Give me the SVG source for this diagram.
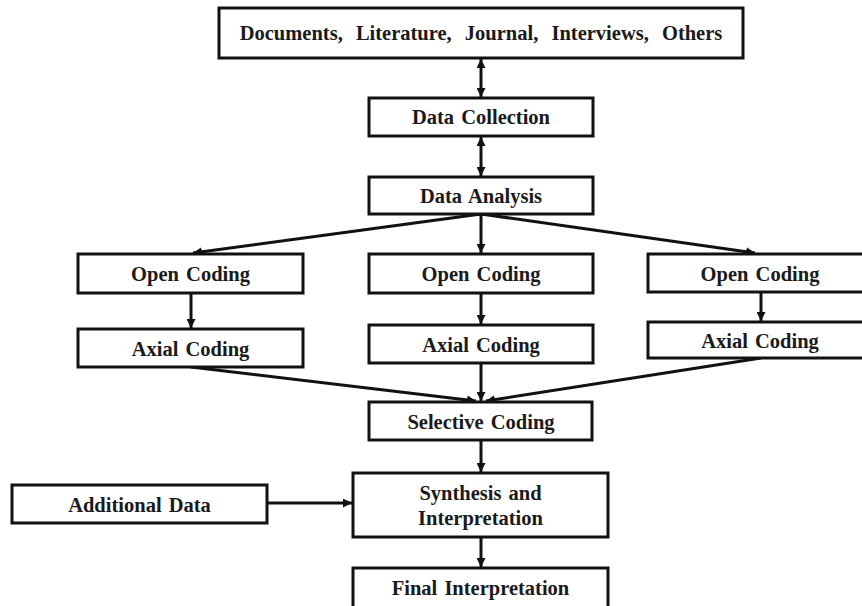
<svg xmlns="http://www.w3.org/2000/svg" width="862" height="606" viewBox="0 0 862 606">
<style>
  .box { fill: #ffffff; stroke: #111111; stroke-width: 3; }
  .lbl { font-family: "Liberation Serif", "Times New Roman", serif; font-weight: bold; font-size: 20.5px; fill: #1a1a1a; text-anchor: middle; word-spacing: 2px; }
  .conn { stroke: #111111; stroke-width: 3; fill: none; }
</style>
<defs>
  <marker id="ah" viewBox="0 0 10 10" refX="10" refY="5" markerWidth="9" markerHeight="9" markerUnits="userSpaceOnUse" orient="auto-start-reverse">
    <path d="M0,0 L10,5 L0,10 z" fill="#111111"/>
  </marker>
</defs>
<rect width="862" height="606" fill="#ffffff"/>

<g id="connectors">
  <line class="conn" x1="481" y1="59" x2="481" y2="97" marker-start="url(#ah)" marker-end="url(#ah)"/>
  <line class="conn" x1="481" y1="137" x2="481" y2="176" marker-start="url(#ah)" marker-end="url(#ah)"/>
  <line class="conn" x1="481" y1="214" x2="193" y2="253" marker-end="url(#ah)"/>
  <line class="conn" x1="481" y1="214" x2="481" y2="253" marker-end="url(#ah)"/>
  <line class="conn" x1="481" y1="214" x2="755" y2="253" marker-end="url(#ah)"/>
  <line class="conn" x1="191" y1="293" x2="191" y2="328" marker-end="url(#ah)"/>
  <line class="conn" x1="481" y1="293" x2="481" y2="324" marker-end="url(#ah)"/>
  <line class="conn" x1="761" y1="292" x2="761" y2="321" marker-end="url(#ah)"/>
  <line class="conn" x1="191" y1="367" x2="476" y2="401" marker-end="url(#ah)"/>
  <line class="conn" x1="481" y1="363" x2="481" y2="401" marker-end="url(#ah)"/>
  <line class="conn" x1="761" y1="358" x2="486" y2="401" marker-end="url(#ah)"/>
  <line class="conn" x1="481" y1="440" x2="481" y2="472" marker-end="url(#ah)"/>
  <line class="conn" x1="481" y1="537" x2="481" y2="567" marker-end="url(#ah)"/>
  <line class="conn" x1="267" y1="503" x2="352" y2="503" marker-end="url(#ah)"/>
</g>

<g id="sources">
  <rect class="box" x="219" y="8" width="524" height="50"/>
  <text class="lbl" x="481" y="40" style="word-spacing:8px">Documents, Literature, Journal, Interviews, Others</text>
</g>
<g id="data-collection">
  <rect class="box" x="369" y="98" width="224" height="38"/>
  <text class="lbl" x="481" y="124">Data Collection</text>
</g>
<g id="data-analysis">
  <rect class="box" x="369" y="177" width="224" height="37"/>
  <text class="lbl" x="481" y="203">Data Analysis</text>
</g>
<g id="open-coding-1">
  <rect class="box" x="78" y="254" width="225" height="39"/>
  <text class="lbl" x="190.5" y="281">Open Coding</text>
</g>
<g id="axial-coding-1">
  <rect class="box" x="78" y="329" width="225" height="38"/>
  <text class="lbl" x="190.5" y="356">Axial Coding</text>
</g>
<g id="open-coding-2">
  <rect class="box" x="369" y="254" width="224" height="39"/>
  <text class="lbl" x="481" y="281">Open Coding</text>
</g>
<g id="axial-coding-2">
  <rect class="box" x="369" y="325" width="224" height="38"/>
  <text class="lbl" x="481" y="352">Axial Coding</text>
</g>
<g id="open-coding-3">
  <rect class="box" x="648" y="254" width="224" height="38"/>
  <text class="lbl" x="760" y="281">Open Coding</text>
</g>
<g id="axial-coding-3">
  <rect class="box" x="648" y="322" width="224" height="36"/>
  <text class="lbl" x="760" y="348">Axial Coding</text>
</g>
<g id="selective-coding">
  <rect class="box" x="369" y="402" width="223" height="38"/>
  <text class="lbl" x="481" y="429">Selective Coding</text>
</g>
<g id="additional-data">
  <rect class="box" x="12" y="485" width="255" height="38"/>
  <text class="lbl" x="139.5" y="512">Additional Data</text>
</g>
<g id="synthesis">
  <rect class="box" x="353" y="473" width="255" height="64"/>
  <text class="lbl" x="480.5" y="500">Synthesis and</text>
  <text class="lbl" x="480.5" y="525">Interpretation</text>
</g>
<g id="final-interpretation">
  <rect class="box" x="353" y="568" width="255" height="50"/>
  <text class="lbl" x="480.5" y="595">Final Interpretation</text>
</g>
</svg>
